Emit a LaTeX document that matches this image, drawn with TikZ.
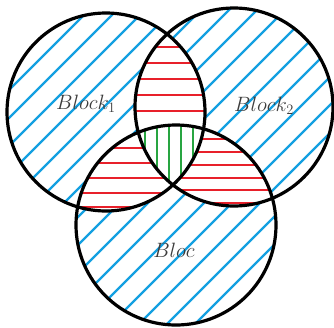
\documentclass[tikz,border=0pt]{standalone}
\definecolor{hblue}{RGB}{20,160,225}
\definecolor{hred}{RGB}{232,32,42}
\definecolor{hgreen}{RGB}{40,165,65}
\definecolor{lblgray}{RGB}{60,60,60}
\tikzset{
  bluehatch/.style={hblue,line width=2.3pt},
  redhatch/.style={hred,line width=2.7pt},
  greenhatch/.style={hgreen,line width=2.7pt},
  setcircle/.style={draw=black,line width=3.2pt},
  setlabel/.style={text=lblgray,font=\fontsize{21}{24}\selectfont}
}
\begin{document}
\begin{tikzpicture}[x=1pt,y=-1pt]
\useasboundingbox (0,0) rectangle (334,327);
\coordinate (cA) at (106,112);
\coordinate (cB) at (234,107);
\coordinate (cC) at (176,225);
% blue hatch in union
\begin{scope}
\clip (cA) circle[radius=99pt] (cB) circle[radius=99pt] (cC) circle[radius=100pt];
\foreach \c in {15,43,...,700} \draw[bluehatch] ({\c-360},360) -- ({\c+20},-20);
\end{scope}
% A and B
\begin{scope}
\clip (cA) circle[radius=99pt];
\clip (cB) circle[radius=99pt];
\fill[white] (0,0) rectangle (334,327);
\foreach \y in {47,63,79,95,111} \draw[redhatch] (0,\y) -- (334,\y);
\end{scope}
% A and C
\begin{scope}
\clip (cA) circle[radius=99pt];
\clip (cC) circle[radius=100pt];
\fill[white] (0,0) rectangle (334,327);
\foreach \y in {148,163,178,193,207} \draw[redhatch] (0,\y) -- (334,\y);
\end{scope}
% B and C
\begin{scope}
\clip (cB) circle[radius=99pt];
\clip (cC) circle[radius=100pt];
\fill[white] (0,0) rectangle (334,327);
\foreach \y in {139,152,165,178,190,203} \draw[redhatch] (0,\y) -- (334,\y);
\end{scope}
% A, B and C
\begin{scope}
\clip (cA) circle[radius=99pt];
\clip (cB) circle[radius=99pt];
\clip (cC) circle[radius=100pt];
\fill[white] (0,0) rectangle (334,327);
\foreach \x in {145,157,169,181,193} \draw[greenhatch] (\x,0) -- (\x,327);
\end{scope}
% circles
\node[setcircle,circle,minimum size=198pt,inner sep=0pt] (A) at (cA) {};
\node[setcircle,circle,minimum size=198pt,inner sep=0pt] (B) at (cB) {};
\node[setcircle,circle,minimum size=200pt,inner sep=0pt] (C) at (cC) {};
% labels
\node[setlabel] (lA) at (86,104) {$Block_1$};
\node[setlabel] (lB) at (264,106) {$Block_2$};
\node[setlabel] (lC) at (174,250) {$Bloc$};
\end{tikzpicture}
\end{document}
